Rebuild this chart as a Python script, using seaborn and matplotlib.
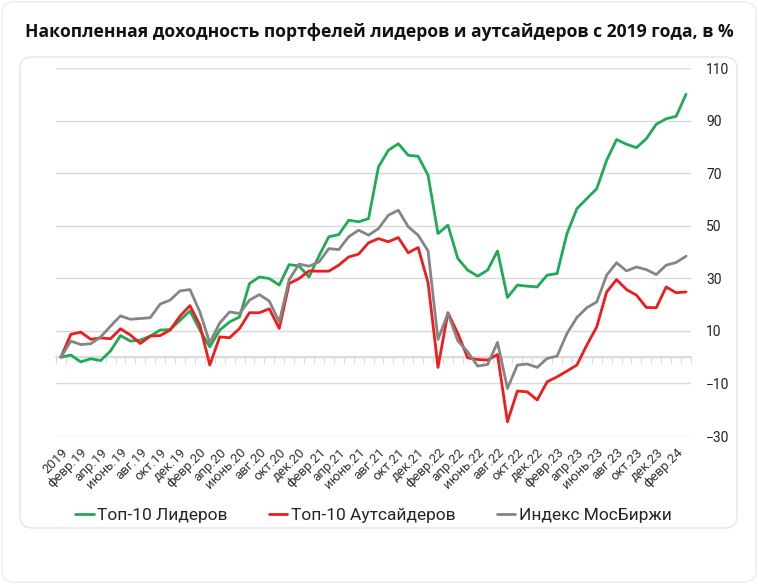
import numpy as np
import pandas as pd
import matplotlib.pyplot as plt
import seaborn as sns
from matplotlib.patches import FancyBboxPatch

# Accumulated returns, % (base = end of 2018), monthly
leaders = [0, 0.8, -1.8, -0.6, -1.3, 2.4, 8.2, 6.1, 6.5, 8.0, 10.3, 10.5, 14.0, 17.6, 10.3, 3.9,
           10.3, 13.4, 15.3, 28.0, 30.5, 29.9, 27.4, 35.2, 34.7, 30.5, 38.5, 45.8, 46.6, 52.1, 51.5, 52.7,
           72.4, 78.7, 81.2, 76.8, 76.4, 69.2, 47.0, 50.2, 37.5, 33.1, 30.8, 33.1, 40.4, 22.7, 27.4, 27.0,
           26.7, 31.2, 31.8, 47.0, 56.5, 60.3, 64.1, 74.9, 82.8, 81.0, 79.7, 83.1, 88.6, 90.7, 91.6, 100.0]
outsiders = [0, 8.7, 9.5, 6.8, 7.3, 7.0, 10.8, 8.4, 5.2, 8.0, 8.2, 10.3, 15.6, 19.6, 12.2, -3.0,
             7.7, 7.4, 10.9, 16.9, 16.9, 18.4, 10.9, 28.0, 29.9, 32.8, 32.7, 32.7, 35.0, 38.1, 39.2, 43.5,
             45.1, 43.9, 45.5, 39.7, 41.7, 28.3, -3.9, 16.9, 9.0, -0.3, -0.9, -1.1, 1.0, -24.6, -12.9, -13.2,
             -16.3, -9.4, -7.5, -5.3, -3.0, 4.6, 11.5, 24.8, 29.5, 25.7, 23.6, 18.9, 18.8, 26.7, 24.5, 24.8]
moex = [0, 6.1, 4.8, 5.1, 7.7, 11.8, 15.7, 14.4, 14.7, 15.0, 20.2, 21.7, 25.2, 25.7, 17.2, 5.5,
        13.0, 17.2, 16.6, 21.7, 23.8, 21.3, 13.4, 29.5, 35.4, 34.6, 36.2, 41.3, 40.9, 45.8, 48.3, 46.4,
        48.9, 54.0, 55.9, 49.6, 46.4, 40.4, 6.7, 16.6, 6.2, 2.0, -3.4, -2.8, 5.6, -11.9, -3.0, -2.6,
        -3.9, -0.5, 0.4, 9.0, 15.1, 18.8, 21.0, 31.2, 35.9, 32.8, 34.3, 33.3, 31.4, 35.0, 36.0, 38.4]

tick_labels = ["2019", "февр.19", "апр.19", "июнь.19", "авг.19", "окт.19", "дек.19",
               "февр.20", "апр.20", "июнь.20", "авг.20", "окт.20", "дек.20",
               "февр.21", "апр.21", "июнь.21", "авг.21", "окт.21", "дек.21",
               "февр.22", "апр.22", "июнь.22", "авг.22", "окт.22", "дек.22",
               "февр.23", "апр.23", "июнь.23", "авг.23", "окт.23", "дек.23", "февр.24"]
y_ticks = [-30, -10, 10, 30, 50, 70, 90, 110]

series_names = ["Топ-10 Лидеров", "Топ-10 Аутсайдеров", "Индекс МосБиржи"]
colors = ["#1fab55", "#ee1c1c", "#858585"]

months = np.arange(len(leaders))
df = pd.DataFrame({
    "month": np.tile(months, 3),
    "value": leaders + outsiders + moex,
    "series": np.repeat(series_names, len(months)),
})

sns.set_theme(style="white")
plt.rcParams["font.family"] = ["Roboto", "DejaVu Sans"]

W, H = 758, 584
fig = plt.figure(figsize=(W / 100, H / 100), dpi=100)

# card backgrounds (behind the axes)
fig.patches.append(FancyBboxPatch((0.02, 0.02), 7.54, 5.80, boxstyle="round,pad=0,rounding_size=0.12",
                                  transform=fig.dpi_scale_trans, facecolor="white", edgecolor="#ececec",
                                  lw=1, zorder=-2))
fig.patches.append(FancyBboxPatch((0.20, 0.56), 7.17, 4.71, boxstyle="round,pad=0,rounding_size=0.12",
                                  transform=fig.dpi_scale_trans, facecolor="white", edgecolor="#e6e6e6",
                                  lw=1, zorder=-1))

ax = fig.add_axes([56 / W, 1 - 436 / H, 635 / W, 368 / H])
ax.patch.set_alpha(0)

ax.axhline(0, color="#d9d9d9", lw=1, zorder=1)
sns.lineplot(data=df, x="month", y="value", hue="series", hue_order=series_names,
             palette=colors, linewidth=2, ax=ax, zorder=3)

ax.set_xlim(-0.5, len(months) - 0.5)
ax.set_ylim(-30, 110)
ax.set_xlabel("")
ax.set_ylabel("")
for s in ax.spines.values():
    s.set_visible(False)

ax.set_yticks(y_ticks)
ax.yaxis.tick_right()
ax.grid(axis="y", color="#d9d9d9", lw=1)
ax.set_axisbelow(True)
ax.tick_params(axis="y", length=0, pad=11, labelsize=10, labelcolor="#222222")

ax.set_xticks(months[::2])
ax.set_xticklabels(tick_labels, rotation=45, ha="right", rotation_mode="anchor")
ax.tick_params(axis="x", length=0, pad=7, labelsize=9.5, labelcolor="#333333")

# zero line with category tick marks
sec = ax.secondary_xaxis(30 / 140)
sec.set_xticks(np.arange(len(months) + 1) - 0.5)
sec.tick_params(axis="x", length=4, width=0.8, color="#d9d9d9", labelbottom=False)
sec.spines["bottom"].set_color("#d9d9d9")

sns.move_legend(ax, "center", bbox_to_anchor=(0.5, (436 - 515) / 368), ncol=3, frameon=False,
                title=None, fontsize=12.5, handlelength=1.05, handletextpad=0.2, columnspacing=2.4)
for line in ax.get_legend().get_lines():
    line.set_linewidth(2)

fig.text(25 / W, 1 - 37 / H, "Накопленная доходность портфелей лидеров и аутсайдеров с 2019 года, в %",
         fontsize=12.6, fontweight="bold", family=["Open Sans", "DejaVu Sans"], va="baseline", color="#111111")

fig.savefig("out.png", dpi=100)
